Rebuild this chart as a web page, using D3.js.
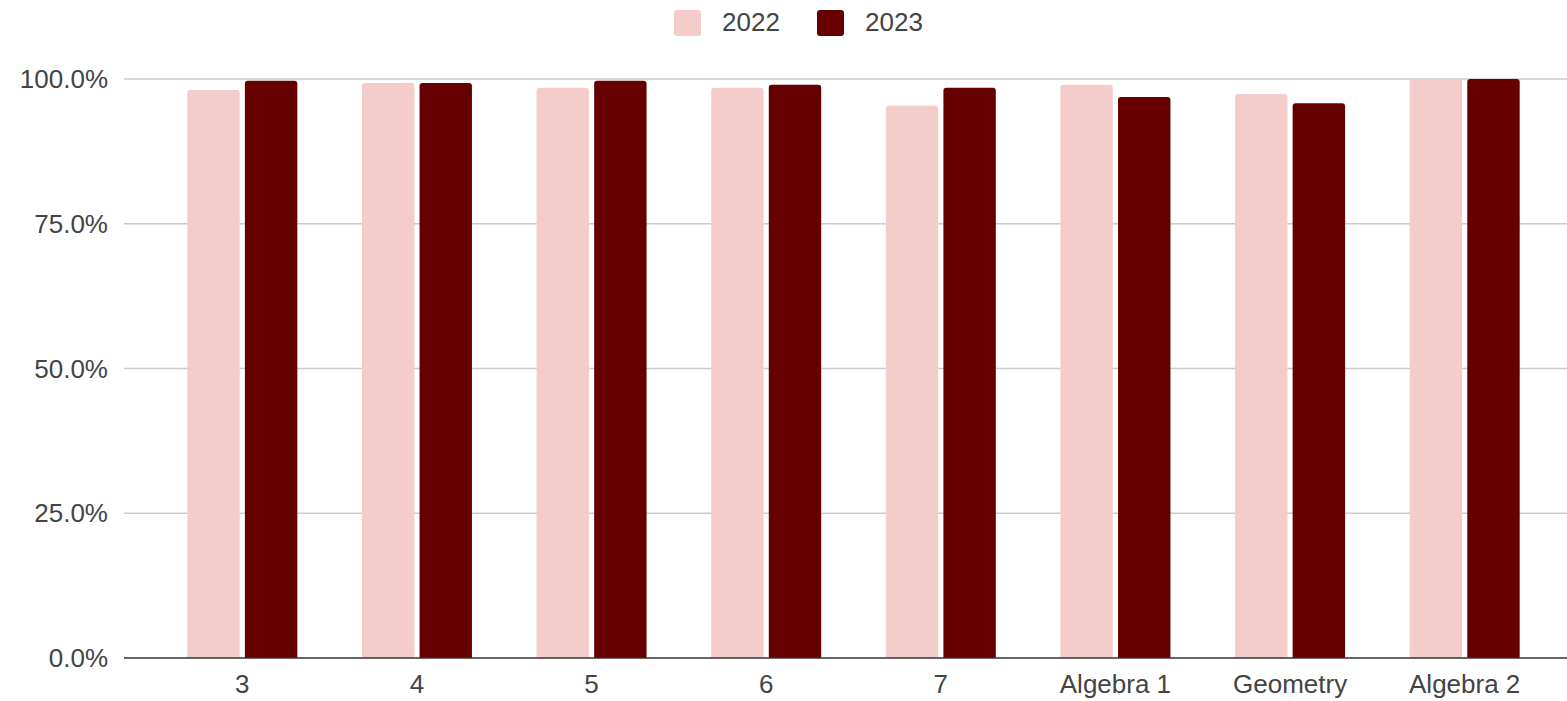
<!DOCTYPE html>
<html><head><meta charset="utf-8">
<script src="https://cdn.jsdelivr.net/npm/d3@7"></script>
<style>body{margin:0;background:#fff}svg{display:block;font-family:"Liberation Sans",Arial,sans-serif}</style>
</head><body><svg id="c" width="1567" height="701"></svg>
<script>
const categories = ["3","4","5","6","7","Algebra 1","Geometry","Algebra 2"];
const seriesNames = ["2022","2023"];
const values2022 = [98.1, 99.3, 98.5, 98.5, 95.4, 99.0, 97.4, 100.0];
const values2023 = [99.7, 99.3, 99.7, 99.0, 98.5, 96.9, 95.8, 100.0];
const yTicks = [0, 25, 50, 75, 100];
const colors = ["#f4cccc", "#660000"];

const svg = d3.select("#c");
const y = d3.scaleLinear().domain([0,100]).range([658,79]);
const x0 = d3.scaleBand().domain(categories).range([155,1552]).paddingInner(0.37).paddingOuter(0.185);
const x1 = d3.scaleBand().domain(seriesNames).range([0,x0.bandwidth()]).paddingInner(0.09);

svg.append("g").selectAll("line").data(yTicks.filter(d=>d>0)).join("line")
  .attr("x1",124).attr("x2",1567).attr("y1",d=>y(d)).attr("y2",d=>y(d))
  .attr("stroke","#cccccc").attr("stroke-width",1.5);

svg.append("g").selectAll("text").data(yTicks).join("text")
  .attr("x",108).attr("y",d=>y(d)).attr("dy","0.35em").attr("text-anchor","end")
  .attr("font-size",26).attr("fill","#444").text(d=>d.toFixed(1)+"%");

const data = categories.map((c,i)=>({cat:c, vals:[values2022[i], values2023[i]]}));
function topRounded(xp,yp,w,h,r){
  r=Math.min(r,h,w/2);
  return `M${xp},${yp+h}V${yp+r}Q${xp},${yp} ${xp+r},${yp}H${xp+w-r}Q${xp+w},${yp} ${xp+w},${yp+r}V${yp+h}Z`;
}
const g = svg.append("g").selectAll("g").data(data).join("g")
  .attr("transform",d=>`translate(${x0(d.cat)},0)`);
g.selectAll("path").data(d=>d.vals.map((v,j)=>({s:seriesNames[j],v,j}))).join("path")
  .attr("fill",d=>colors[d.j])
  .attr("d",d=>topRounded(x1(d.s), y(d.v), x1.bandwidth(), y(0)-y(d.v), 3));

svg.append("line").attr("x1",124).attr("x2",1567).attr("y1",y(0)).attr("y2",y(0))
  .attr("stroke","#333").attr("stroke-width",1.5);

const xAxis = svg.append("g").attr("transform",`translate(0,${y(0)})`)
  .call(d3.axisBottom(x0).tickSize(0).tickPadding(0));
xAxis.select(".domain").remove();
xAxis.selectAll("text").attr("font-size",26).attr("fill","#444")
  .attr("font-family","Liberation Sans, Arial, sans-serif").attr("y",35).attr("dy",0);

const legX = [674, 817];
const lg = svg.append("g").selectAll("g").data(seriesNames).join("g")
  .attr("transform",(d,i)=>`translate(${legX[i]},10)`);
lg.append("rect").attr("width",27).attr("height",26).attr("rx",3).attr("fill",(d,i)=>colors[i]);
lg.append("text").attr("x",48).attr("y",21).attr("font-size",26).attr("fill","#444").text(d=>d);
</script></body></html>
